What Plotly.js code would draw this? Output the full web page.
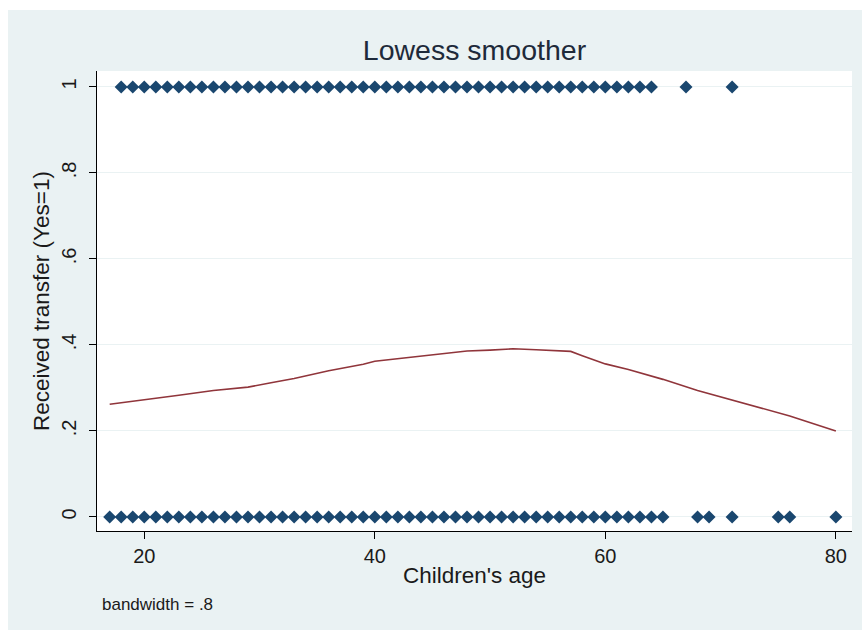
<!DOCTYPE html>
<html>
<head>
<meta charset="utf-8">
<script src="https://cdn.plot.ly/plotly-3.0.1.min.js"></script>
<style>
html,body{margin:0;padding:0;background:#ffffff;}
#chart{position:absolute;left:8px;top:10px;width:854px;height:620px;}
</style>
</head>
<body>
<div id="chart"></div>
<script>
// Observed data: ages with transfer = 1 and transfer = 0
const agesYes = [18,19,20,21,22,23,24,25,26,27,28,29,30,31,32,33,34,35,36,37,38,39,40,41,42,43,44,45,46,47,48,49,50,51,52,53,54,55,56,57,58,59,60,61,62,63,64,67,71];
const agesNo = [17,18,19,20,21,22,23,24,25,26,27,28,29,30,31,32,33,34,35,36,37,38,39,40,41,42,43,44,45,46,47,48,49,50,51,52,53,54,55,56,57,58,59,60,61,62,63,64,65,68,69,71,75,76,80];

// Lowess smoothed values
const lowessAge = [17,20,23,26,29,31,33,36,39,40,42,45,48,50,52,54,56,57,58,60,62,65,68,71,75,76,80];
const lowessVal = [0.262,0.272,0.283,0.294,0.302,0.312,0.322,0.340,0.355,0.362,0.368,0.378,0.386,0.388,0.391,0.389,0.387,0.385,0.375,0.356,0.343,0.320,0.294,0.272,0.242,0.235,0.200];

const yTickVals = [0,0.2,0.4,0.6,0.8,1];
const yTickText = ["0",".2",".4",".6",".8","1"];
const xTickVals = [20,40,60,80];

const navy = '#1a476f';
const maroon = '#90353b';
const bg = '#eaf2f3';
const fontFam = '"Liberation Sans", Arial, sans-serif';

const traces = [
  {x: agesYes, y: agesYes.map(() => 1), type: 'scatter', mode: 'markers',
   marker: {symbol: 'diamond', size: 10, color: navy}, hoverinfo: 'skip'},
  {x: agesNo, y: agesNo.map(() => 0), type: 'scatter', mode: 'markers',
   marker: {symbol: 'diamond', size: 10, color: navy}, hoverinfo: 'skip'},
  {x: lowessAge, y: lowessVal, type: 'scatter', mode: 'lines',
   line: {color: maroon, width: 1.6}, hoverinfo: 'skip'}
];

const layout = {
  width: 854, height: 620,
  paper_bgcolor: bg, plot_bgcolor: '#ffffff',
  showlegend: false,
  margin: {l: 89, r: 10, t: 61, b: 99},
  font: {family: fontFam, color: '#1a1a1a'},
  title: {text: 'Lowess smoother', font: {size: 28.5, color: '#1e2a3a', family: fontFam},
          xref: 'paper', x: 0.5, xanchor: 'center', yref: 'container', y: 1 - 40/620, yanchor: 'middle'},
  xaxis: {range: [15.9, 81.4], tickvals: xTickVals, ticktext: xTickVals.map(String),
          showgrid: false, zeroline: false, showline: true, linecolor: '#000', linewidth: 1,
          ticks: 'outside', ticklen: 7, tickcolor: '#000', tickfont: {size: 20},
          title: {text: "Children's age", font: {size: 22.5}, standoff: 1}},
  yaxis: {range: [-0.0326, 1.037], tickvals: yTickVals, ticktext: yTickText, tickangle: -90,
          showgrid: true, gridcolor: bg, gridwidth: 1, zeroline: false,
          showline: true, linecolor: '#000', linewidth: 1, ticklabelstandoff: 5,
          ticks: 'outside', ticklen: 7, tickcolor: '#000', tickfont: {size: 20},
          title: {text: 'Received transfer (Yes=1)', font: {size: 22.5}, standoff: 2}},
  annotations: [
    {text: 'bandwidth = .8', xref: 'paper', yref: 'paper', x: 3/755, y: -73/460,
     xanchor: 'left', yanchor: 'middle', showarrow: false, font: {size: 17, color: '#1a1a1a'}}
  ]
};

Plotly.newPlot('chart', traces, layout, {displayModeBar: false, staticPlot: true});
</script>
</body>
</html>
